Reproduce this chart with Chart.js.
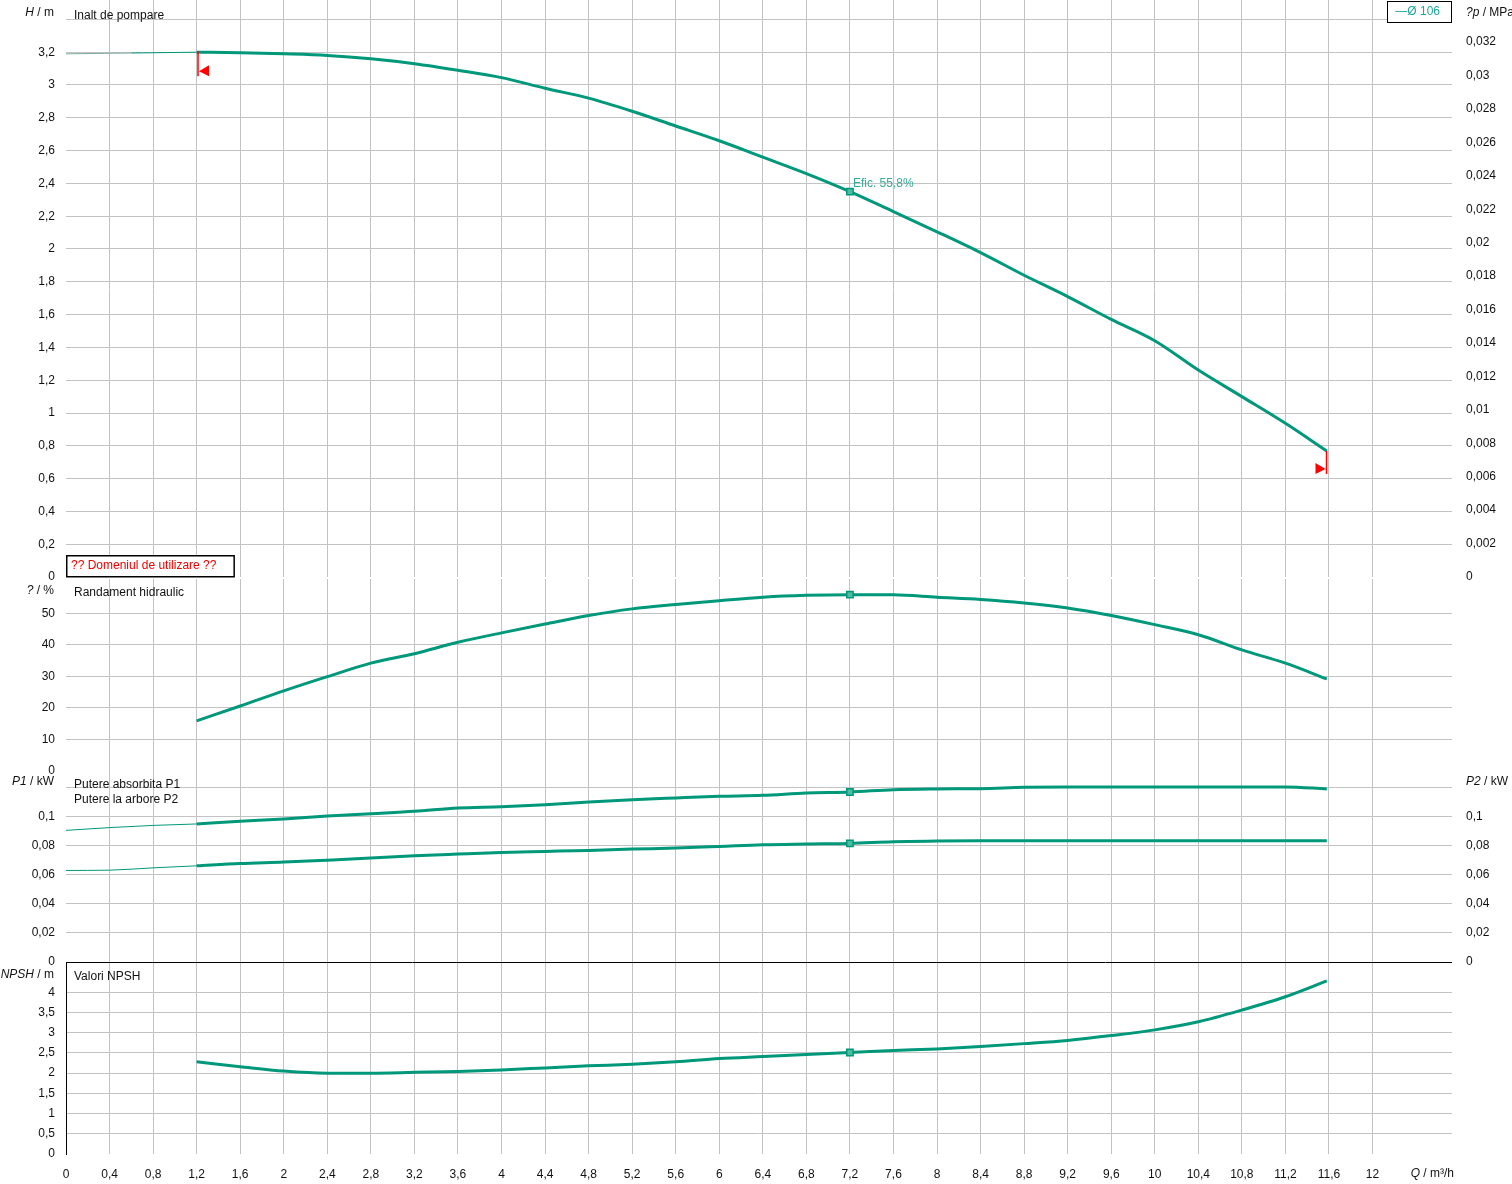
<!DOCTYPE html>
<html>
<head>
<meta charset="utf-8">
<title>Curbe pompa</title>
<script src="https://cdn.jsdelivr.net/npm/chart.js@4.4.1/dist/chart.umd.min.js"></script>
<style>
  html, body { margin: 0; padding: 0; background: #fff; }
  #wrap { position: relative; width: 1512px; height: 1184px; overflow: hidden; background: #fff; }
  #wrap canvas { position: absolute; left: 0; }
</style>
</head>
<body>
<div id="wrap"></div>
<script>
// debit Q (m3/h) - curbele principale
const Q    = [1.2, 1.6, 2.0, 2.4, 2.8, 3.2, 3.6, 4.0, 4.4, 4.8, 5.2, 5.6, 6.0, 6.4, 6.8, 7.2, 7.6, 8.0, 8.4, 8.8, 9.2, 9.6, 10.0, 10.4, 10.8, 11.2, 11.58];
// inaltime de pompare H (m)
const H    = [3.20, 3.197, 3.19, 3.18, 3.16, 3.13, 3.09, 3.045, 2.98, 2.92, 2.84, 2.75, 2.66, 2.56, 2.46, 2.35, 2.228, 2.105, 1.978, 1.84, 1.71, 1.571, 1.441, 1.262, 1.10, 0.937, 0.768];
// randament hidraulic (%)
const ETA  = [15.9, 20.6, 25.4, 29.9, 34.2, 37.2, 40.8, 43.8, 46.6, 49.3, 51.4, 52.8, 54.0, 55.1, 55.7, 55.9, 55.85, 55.1, 54.4, 53.3, 51.7, 49.3, 46.4, 43.2, 38.4, 34.2, 29.2];
// putere absorbita P1 / la arbore P2 (kW)
const P1   = [0.0950, 0.0968, 0.0984, 0.1005, 0.1021, 0.1037, 0.1060, 0.1069, 0.1083, 0.1101, 0.1117, 0.1129, 0.1140, 0.1147, 0.1163, 0.1170, 0.1186, 0.1191, 0.1193, 0.1202, 0.1205, 0.1205, 0.1205, 0.1205, 0.1205, 0.1205, 0.1191];
const P2   = [0.0662, 0.0678, 0.0688, 0.0701, 0.0715, 0.0731, 0.0743, 0.0754, 0.0761, 0.0768, 0.0777, 0.0784, 0.0795, 0.0807, 0.0812, 0.0816, 0.0828, 0.0832, 0.0834, 0.0834, 0.0834, 0.0834, 0.0834, 0.0834, 0.0834, 0.0834, 0.0834];
// NPSH (m)
const NPSH = [2.28, 2.16, 2.05, 2.0, 2.0, 2.02, 2.04, 2.08, 2.13, 2.18, 2.22, 2.28, 2.36, 2.41, 2.46, 2.51, 2.56, 2.60, 2.66, 2.73, 2.81, 2.93, 3.07, 3.27, 3.56, 3.89, 4.28];

// portiunea subtire (in afara domeniului), Q de la 0
const Q_EXT_H  = [0, 0.6, 1.2];
const H_EXT    = [3.19, 3.195, 3.20];
const Q_EXT_P  = [0, 0.4, 0.8, 1.2];
const P1_EXT   = [0.0906, 0.0925, 0.0940, 0.0950];
const P2_EXT   = [0.0630, 0.0632, 0.0648, 0.0662];

const DUTY_Q    = 7.2;
const EFIC_TEXT = 'Efic. 55,8%';
const LEGEND    = '\u2014\u00d8 106';

const RHO_G = 0.00981;   // MPa per m
const Q_MAX = 12.73;

const TEAL  = '#00987a';
const GRID  = '#c3c3c3';
const FONT  = "'Liberation Sans', Arial, sans-serif";
const PAD   = 28;

Chart.defaults.font.family = FONT;
Chart.defaults.font.size = 12;
Chart.defaults.color = '#111';

const wrap = document.getElementById('wrap');

function fmt(v, dec) {
  return String(parseFloat(v.toFixed(dec))).replace('.', ',');
}
function onStep(v, step) {
  const k = v / step;
  return Math.abs(k - Math.round(k)) < 1e-6;
}
function pts(xs, ys) {
  return xs.map((x, i) => ({ x: x, y: ys[i] }));
}

function makeCanvas(top, areaH, extraBottom) {
  const c = document.createElement('canvas');
  const h = areaH + PAD + (extraBottom || PAD);
  c.width = 1512; c.height = h;
  c.style.width = '1512px'; c.style.height = h + 'px';
  c.style.top = (top - PAD) + 'px';
  wrap.appendChild(c);
  return c;
}

function xScale(labels) {
  return {
    type: 'linear', position: 'bottom', min: 0, max: Q_MAX,
    afterBuildTicks: s => { s.ticks = s.ticks.filter(t => onStep(t.value, 0.4)); },
    afterFit: s => { s.height = labels ? 30 : 0; },
    ticks: {
      display: labels, stepSize: 0.4, padding: 13, maxRotation: 0, autoSkip: false, color: '#111',
      callback: v => v > 12.01 ? '' : fmt(v, 1)
    },
    grid: { color: c => (c.tick && c.tick.value === 0) ? 'rgba(0,0,0,0)' : GRID, drawTicks: false, lineWidth: 1 },
    border: { display: false }
  };
}

function yScale(o) {
  return {
    type: 'linear', position: o.position || 'left', min: 0, max: o.max,
    afterBuildTicks: s => { s.ticks = s.ticks.filter(t => onStep(t.value, o.step) && t.value <= o.top + 1e-9); },
    afterFit: s => { s.width = o.width; },
    ticks: {
      stepSize: o.step, padding: o.pad, color: '#111',
      callback: v => v > o.lastLabel + 1e-9 ? '' : fmt(v, o.dec)
    },
    grid: {
      display: !!o.grid, drawTicks: false, lineWidth: 1,
      color: c => (c.tick && c.tick.value === 0) ? 'rgba(0,0,0,0)' : GRID
    },
    border: { display: !!o.border, color: '#000', width: 1 }
  };
}

function curve(xs, ys, width, yAxisID) {
  return {
    data: pts(xs, ys), yAxisID: yAxisID || 'y',
    borderColor: TEAL, borderWidth: width, fill: false,
    cubicInterpolationMode: 'monotone',
    pointStyle: 'rect', pointBorderColor: TEAL, pointBackgroundColor: '#4fbba0', pointBorderWidth: 1.5,
    pointRadius: c => (xs === Q && xs[c.dataIndex] === DUTY_Q) ? 4.5 : 0
  };
}

// text cu parti cursive: [[text, italic], ...]
function rich(ctx, parts, x, y, align) {
  let w = 0;
  parts.forEach(p => { ctx.font = (p[1] ? 'italic ' : '') + '12px ' + FONT; w += ctx.measureText(p[0]).width; });
  let cx = align === 'right' ? x - w : x;
  ctx.textAlign = 'left'; ctx.textBaseline = 'middle';
  parts.forEach(p => {
    ctx.font = (p[1] ? 'italic ' : '') + '12px ' + FONT;
    ctx.fillText(p[0], cx, y);
    cx += ctx.measureText(p[0]).width;
  });
}
function txt(ctx, s, x, y, color, align) {
  ctx.font = '12px ' + FONT;
  ctx.fillStyle = color || '#111';
  ctx.textAlign = align || 'left';
  ctx.textBaseline = 'middle';
  ctx.fillText(s, x, y);
}

const baseOpts = {
  responsive: false, animation: false, events: [],
  plugins: { legend: { display: false }, tooltip: { enabled: false } }
};

// ---------- panou 1: inaltime de pompare ----------
const area1 = { top: 0, h: 577 };
const hMax = area1.h / 164;
const hExt = curve(Q_EXT_H, H_EXT, 1);
hExt.segment = { borderColor: c => c.p0DataIndex === 0 ? '#7fa8a0' : TEAL };
new Chart(makeCanvas(area1.top, area1.h), {
  type: 'line',
  data: { datasets: [curve(Q, H, 3), hExt] },
  options: Object.assign({}, baseOpts, {
    layout: { padding: { top: PAD, bottom: PAD, left: 0, right: 0 } },
    scales: {
      x: xScale(false),
      y: yScale({ max: hMax, step: 0.2, top: 3.4, lastLabel: 3.2, dec: 1, width: 66, pad: 11, grid: true }),
      yp: yScale({ position: 'right', max: hMax * RHO_G, step: 0.002, top: 0.032, lastLabel: 0.032, dec: 3, width: 60, pad: 14 })
    }
  }),
  plugins: [{
    id: 'pan1',
    afterDraw(chart) {
      const { ctx, chartArea: a, scales: { x, y } } = chart;
      ctx.save();
      ctx.fillStyle = '#111';
      rich(ctx, [['H', true], [' / m', false]], a.left - 12, a.top + 13, 'right');
      txt(ctx, 'Inalt de pompare', a.left + 8, a.top + 16);
      ctx.fillStyle = '#111';
      rich(ctx, [['?p', true], [' / MPa', false]], a.right + 14, a.top + 13, 'left');

      // legenda
      ctx.font = '12px ' + FONT;
      const lw = ctx.measureText(LEGEND).width + 20;
      ctx.fillStyle = '#fff';
      ctx.fillRect(a.right - lw, a.top + 1, lw, 21);
      ctx.strokeStyle = '#000'; ctx.lineWidth = 1;
      ctx.strokeRect(Math.round(a.right - lw) + 0.5, a.top + 1.5, Math.round(lw) - 1, 21);
      txt(ctx, LEGEND, a.right - lw + 8, a.top + 12, '#1fa59b');

      // domeniul de utilizare
      const dom = '?? Domeniul de utilizare ??';
      ctx.font = '12px ' + FONT;
      const dw = ctx.measureText(dom).width + 22;
      ctx.fillStyle = '#fff';
      ctx.fillRect(a.left, a.bottom - 22, dw, 22);
      ctx.strokeStyle = '#000'; ctx.lineWidth = 1.5;
      ctx.strokeRect(a.left + 0.75, a.bottom - 21.25, dw, 21);
      txt(ctx, dom, a.left + 5, a.bottom - 11, '#f00000');

      // eficienta
      const di = Q.indexOf(DUTY_Q);
      txt(ctx, EFIC_TEXT, x.getPixelForValue(DUTY_Q) + 3, y.getPixelForValue(H[di]) - 8, '#35aa9a');

      // limite domeniu (rosu)
      ctx.strokeStyle = '#ff0000'; ctx.fillStyle = '#ff0000'; ctx.lineWidth = 1.5;
      const lx = Math.round(x.getPixelForValue(Q[0])) + 1, ly = y.getPixelForValue(H[0]);
      ctx.beginPath(); ctx.moveTo(lx, ly - 1); ctx.lineTo(lx, ly + 24); ctx.stroke();
      ctx.beginPath(); ctx.moveTo(lx + 1, ly + 19); ctx.lineTo(lx + 11, ly + 13); ctx.lineTo(lx + 11, ly + 24); ctx.closePath(); ctx.fill();
      const n = Q.length - 1;
      const rx = Math.round(x.getPixelForValue(Q[n])) - 0.5, ry = y.getPixelForValue(H[n]);
      ctx.beginPath(); ctx.moveTo(rx, ry); ctx.lineTo(rx, ry + 23); ctx.stroke();
      ctx.beginPath(); ctx.moveTo(rx - 1, ry + 18); ctx.lineTo(rx - 11, ry + 12); ctx.lineTo(rx - 11, ry + 23); ctx.closePath(); ctx.fill();
      ctx.restore();
    }
  }]
});

// ---------- panou 2: randament ----------
const area2 = { top: 579, h: 192 };
new Chart(makeCanvas(area2.top, area2.h), {
  type: 'line',
  data: { datasets: [curve(Q, ETA, 3)] },
  options: Object.assign({}, baseOpts, {
    layout: { padding: { top: PAD, bottom: PAD, left: 0, right: 60 } },
    scales: {
      x: xScale(false),
      y: yScale({ max: area2.h / 3.154, step: 10, top: 60, lastLabel: 50, dec: 0, width: 66, pad: 11, grid: true })
    }
  }),
  plugins: [{
    id: 'pan2',
    afterDraw(chart) {
      const { ctx, chartArea: a } = chart;
      ctx.save();
      ctx.fillStyle = '#111';
      rich(ctx, [['?', true], [' / %', false]], a.left - 12, a.top + 12, 'right');
      txt(ctx, 'Randament hidraulic', a.left + 8, a.top + 14);
      ctx.restore();
    }
  }]
});

// ---------- panou 3: puteri ----------
const area3 = { top: 771, h: 191 };
const pMax = area3.h / 1453;
new Chart(makeCanvas(area3.top, area3.h), {
  type: 'line',
  data: { datasets: [curve(Q, P1, 3), curve(Q, P2, 3), curve(Q_EXT_P, P1_EXT, 1), curve(Q_EXT_P, P2_EXT, 1)] },
  options: Object.assign({}, baseOpts, {
    layout: { padding: { top: PAD, bottom: PAD, left: 0, right: 0 } },
    scales: {
      x: xScale(false),
      y: yScale({ max: pMax, step: 0.02, top: 0.12, lastLabel: 0.1, dec: 2, width: 66, pad: 11, grid: true }),
      y2: yScale({ position: 'right', max: pMax, step: 0.02, top: 0.12, lastLabel: 0.1, dec: 2, width: 60, pad: 14 })
    }
  }),
  plugins: [{
    id: 'pan3',
    afterDraw(chart) {
      const { ctx, chartArea: a } = chart;
      ctx.save();
      ctx.fillStyle = '#111';
      rich(ctx, [['P1', true], [' / kW', false]], a.left - 12, a.top + 11, 'right');
      ctx.fillStyle = '#111';
      rich(ctx, [['P2', true], [' / kW', false]], a.right + 14, a.top + 11, 'left');
      txt(ctx, 'Putere absorbita P1', a.left + 8, a.top + 14);
      txt(ctx, 'Putere la arbore P2', a.left + 8, a.top + 29);
      ctx.restore();
    }
  }]
});

// ---------- panou 4: NPSH ----------
const area4 = { top: 962, h: 192 };
new Chart(makeCanvas(area4.top, area4.h, 30), {
  type: 'line',
  data: { datasets: [curve(Q, NPSH, 3)] },
  options: Object.assign({}, baseOpts, {
    layout: { padding: { top: PAD, bottom: 0, left: 0, right: 60 } },
    scales: {
      x: xScale(true),
      y: yScale({ max: area4.h / 40.43, step: 0.5, top: 4.5, lastLabel: 4, dec: 1, width: 66, pad: 11, grid: true, border: true })
    }
  }),
  plugins: [{
    id: 'pan4',
    afterDraw(chart) {
      const { ctx, chartArea: a } = chart;
      ctx.save();
      ctx.strokeStyle = '#000'; ctx.lineWidth = 1;
      ctx.beginPath(); ctx.moveTo(a.left, Math.round(a.top) + 0.5); ctx.lineTo(a.right, Math.round(a.top) + 0.5); ctx.stroke();
      ctx.fillStyle = '#111';
      rich(ctx, [['NPSH', true], [' / m', false]], a.left - 12, a.top + 13, 'right');
      txt(ctx, 'Valori NPSH', a.left + 8, a.top + 15);
      ctx.fillStyle = '#111';
      rich(ctx, [['Q', true], [' / m\u00b3/h', false]], a.right + 2, a.bottom + 20, 'right');
      ctx.restore();
    }
  }]
});
</script>
</body>
</html>
